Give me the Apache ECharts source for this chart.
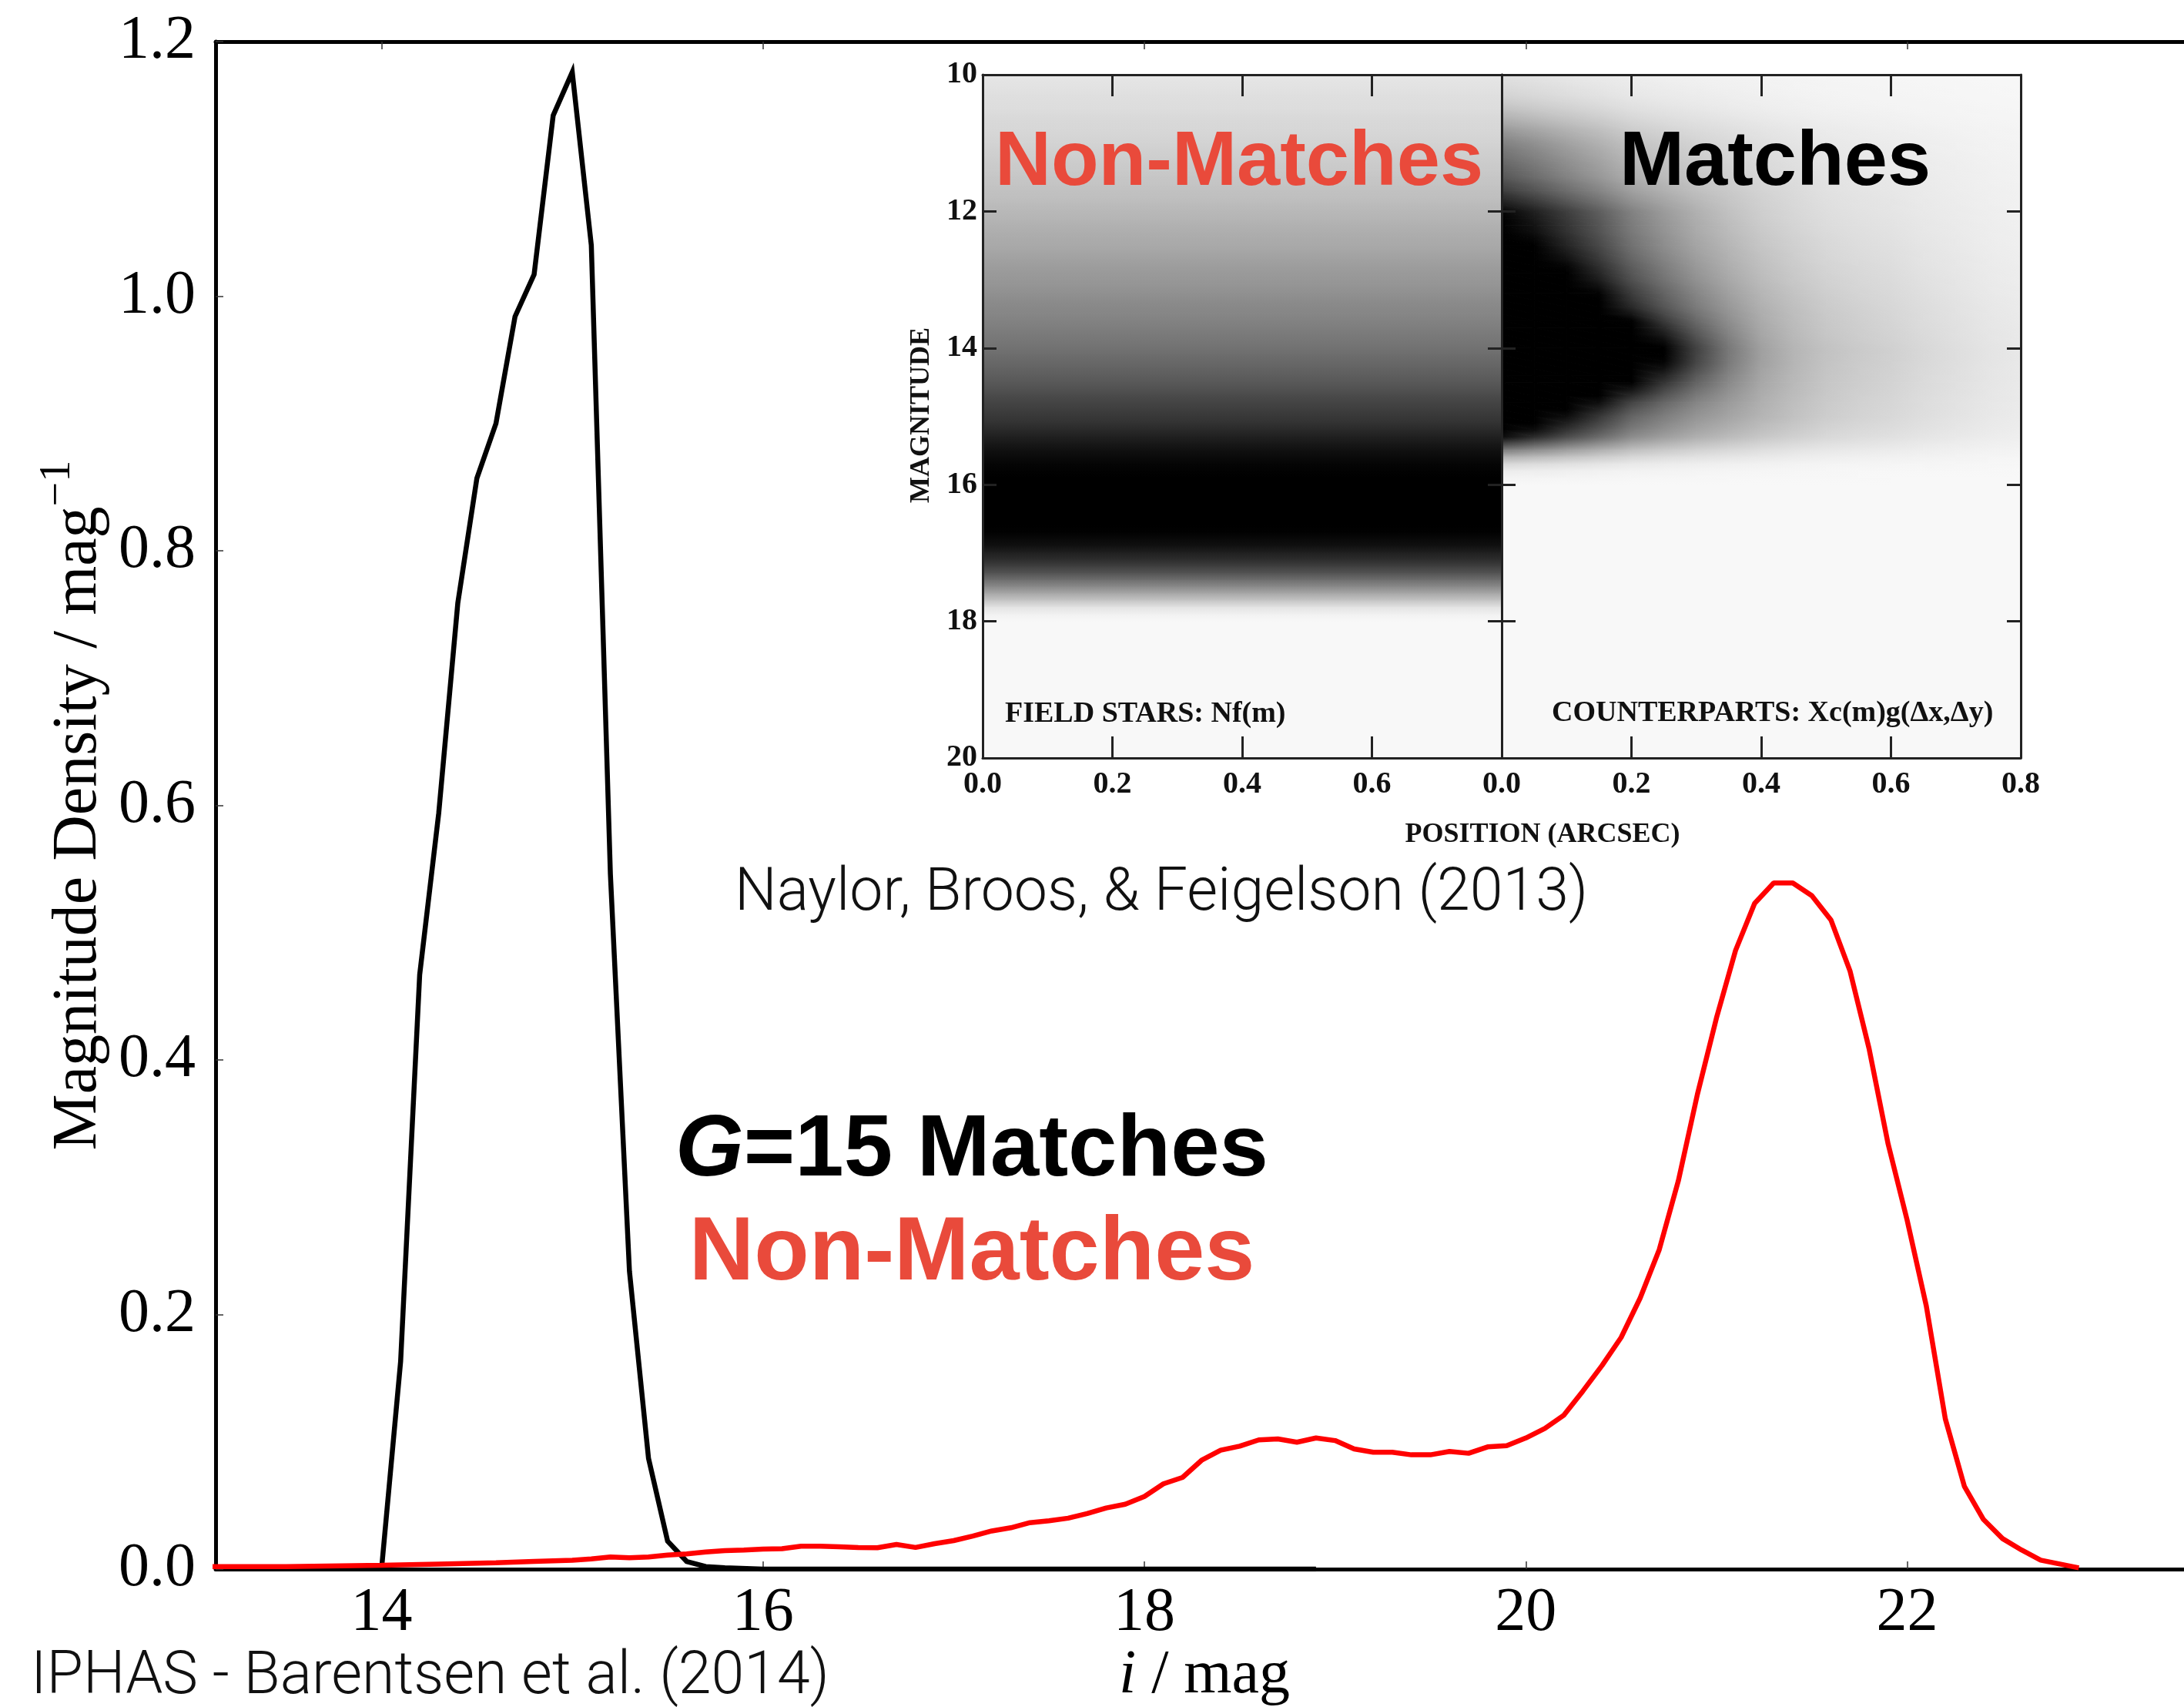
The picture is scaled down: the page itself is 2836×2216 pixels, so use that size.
<!DOCTYPE html>
<html>
<head>
<meta charset="utf-8">
<script src="https://cdn.jsdelivr.net/npm/echarts@6/dist/echarts.min.js"></script>
<style>html,body{margin:0;padding:0;background:#fff}#c{width:2836px;height:2216px}</style>
</head>
<body>
<div id="c"></div>
<script>
// ---------------- main plot data ----------------
const xTickValues = [14, 16, 18, 20, 22];

const blackMag = [14.0,14.1,14.2,14.3,14.4,14.5,14.6,14.7,14.8,14.9,15.0,15.1,15.2,15.3,15.4,15.5,15.6,15.7,15.8,16.0,17.0,18.0,18.9];
const blackDensity = [0,0.163,0.467,0.594,0.759,0.857,0.900,0.984,1.017,1.142,1.176,1.040,0.546,0.234,0.087,0.022,0.006,0.002,0.001,0,0,0,0];

const redMag = [13.1,13.5,14.0,14.3,14.6,14.8,
  15.0,15.1,15.2,15.3,15.4,15.5,15.6,15.7,15.8,15.9,
  16.0,16.1,16.2,16.3,16.4,16.5,16.6,16.7,16.8,16.9,
  17.0,17.1,17.2,17.3,17.4,17.5,17.6,17.7,17.8,17.9,
  18.0,18.1,18.2,18.3,18.4,18.5,18.6,18.7,18.8,18.9,
  19.0,19.1,19.2,19.3,19.4,19.5,19.6,19.7,19.8,19.9,
  20.0,20.1,20.2,20.3,20.4,20.5,20.6,20.7,20.8,20.9,
  21.0,21.1,21.2,21.3,21.4,21.5,21.6,21.7,21.8,21.9,
  22.0,22.1,22.2,22.3,22.4,22.5,22.6,22.7,22.8,22.9];
const redDensity = [0.002,0.002,0.003,0.004,0.005,0.006,
  0.007,0.008,0.0095,0.009,0.0095,0.011,0.012,0.0135,0.0145,0.015,
  0.0157,0.016,0.018,0.018,0.0175,0.017,0.0168,0.0194,0.017,0.020,
  0.0224,0.026,0.030,0.0325,0.0365,0.038,0.040,0.0436,0.048,0.051,
  0.057,0.067,0.072,0.0855,0.0934,0.0966,0.1015,0.1023,0.0997,0.103,
  0.101,0.0944,0.0918,0.0918,0.0898,0.0898,0.0924,0.091,0.096,0.097,
  0.103,0.1105,0.121,0.140,0.160,0.182,0.213,0.251,0.305,0.373,
  0.433,0.486,0.523,0.539,0.539,0.529,0.510,0.470,0.409,0.334,
  0.274,0.207,0.118,0.065,0.039,0.024,0.015,0.007,0.004,0.001];

// ---------------- inset data ----------------
// Left panel (field stars): darkness (0 white .. 1 black) per magnitude
const fieldMag = [10.0,10.1,10.2,10.3,10.4,10.5,10.6,10.7,10.8,10.9,
  11.0,11.1,11.2,11.3,11.4,11.5,11.6,11.7,11.8,11.9,
  12.0,12.1,12.2,12.3,12.4,12.5,12.6,12.7,12.8,12.9,
  13.0,13.1,13.2,13.3,13.4,13.5,13.6,13.7,13.8,13.9,
  14.0,14.1,14.2,14.3,14.4,14.5,14.6,14.7,14.8,14.9,
  15.0,15.1,15.2,15.3,15.4,15.5,15.6,15.7,15.8,15.9,
  16.0,16.1,16.2,16.3,16.4,16.5,16.6,16.7,16.8,16.9,
  17.0,17.1,17.2,17.3,17.4,17.5,17.6,17.7,17.8,17.9,18.0];
const fieldDark = [0.07,0.08,0.09,0.10,0.105,0.11,0.12,0.13,0.135,0.14,
  0.15,0.16,0.17,0.18,0.19,0.20,0.21,0.22,0.23,0.245,
  0.26,0.27,0.285,0.30,0.31,0.32,0.335,0.35,0.365,0.38,
  0.39,0.405,0.42,0.435,0.45,0.46,0.475,0.49,0.51,0.525,
  0.54,0.56,0.58,0.60,0.62,0.645,0.67,0.70,0.725,0.75,
  0.775,0.80,0.835,0.87,0.905,0.935,0.96,0.98,0.99,1,
  1,1,1,1,1,1,1,0.99,0.965,0.93,
  0.87,0.82,0.74,0.66,0.55,0.44,0.32,0.20,0.08,0.03,0.0];

// Right panel (counterparts): a broad halo and a narrow core, each = level(magnitude) x profile(position)
const cpMag = [10.0,10.1,10.2,10.3,10.4,10.5,10.6,10.7,10.8,10.9,
  11.0,11.1,11.2,11.3,11.4,11.5,11.6,11.7,11.8,11.9,
  12.0,12.1,12.2,12.3,12.4,12.5,12.6,12.7,12.8,12.9,
  13.0,13.1,13.2,13.3,13.4,13.5,13.6,13.7,13.8,13.9,
  14.0,14.1,14.2,14.3,14.4,14.5,14.6,14.7,14.8,14.9,
  15.0,15.1,15.2,15.3,15.4,15.5,15.6,15.7,15.8,15.9,16.0];
const haloLevel = [0.10,0.11,0.13,0.15,0.18,0.22,0.27,0.32,0.38,0.43,
  0.48,0.52,0.55,0.59,0.62,0.65,0.68,0.70,0.73,0.75,
  0.78,0.81,0.85,0.88,0.92,0.95,0.99,1.03,1.07,1.11,
  1.15,1.20,1.25,1.30,1.35,1.39,1.43,1.47,1.50,1.55,
  1.60,1.60,1.59,1.56,1.53,1.50,1.46,1.42,1.38,1.34,
  1.30,1.20,1.09,0.95,0.72,0.48,0.28,0.13,0.05,0.02,0.0];
const coreLevel = [0,0,0,0,0,0,0,0,0,0,
  0,0,0,0,0,0,0.03,0.06,0.10,0.15,
  0.20,0.20,0.19,0.18,0.18,0.18,0.19,0.20,0.22,0.235,
  0.25,0.28,0.31,0.33,0.36,0.45,0.56,0.68,0.80,0.91,
  1.00,0.98,0.95,0.85,0.70,0.56,0.42,0.29,0.15,0.07,
  0,0,0,0,0,0,0,0,0,0,0];
const posGrid = [0.00,0.05,0.10,0.15,0.20,0.25,0.30,0.35,0.40,0.45,0.50,0.55,0.60,0.65,0.70,0.75,0.80];
const haloProfile = [1.00,0.87,0.73,0.60,0.46,0.38,0.31,0.26,0.21,0.17,0.135,0.115,0.10,0.08,0.065,0.05,0.04];
const coreProfile = [1.00,0.97,0.90,0.77,0.60,0.40,0.24,0.10,0.02,0,0,0,0,0,0,0,0];

// ---------------- build series data ----------------
const blackData = blackMag.map((m, i) => [m, blackDensity[i]]);
const redData = redMag.map((m, i) => [m, redDensity[i]]);

const fieldData = [];
for (let i = 0; i < fieldMag.length - 1; i++) {
  fieldData.push([fieldMag[i], fieldMag[i + 1], fieldDark[i], fieldDark[i + 1]]);
}
// darkness at each grid node of the right panel
const cpNode = cpMag.map((m, j) => posGrid.map((p, i) =>
  Math.min(1, haloLevel[j] * haloProfile[i] + coreLevel[j] * coreProfile[i])));
const cpData = [];
for (let j = 0; j < cpMag.length - 1; j++) {
  for (let i = 0; i < posGrid.length - 1; i++) {
    cpData.push([posGrid[i], posGrid[i + 1], cpMag[j], cpMag[j + 1],
      cpNode[j][i], cpNode[j][i + 1], cpNode[j + 1][i], cpNode[j + 1][i + 1]]);
  }
}

function grayOf(d) {
  const g = Math.round(248 * (1 - Math.max(0, Math.min(1, d))));
  return 'rgb(' + g + ',' + g + ',' + g + ')';
}
// linear shading across a triangle (plane through its three corner values)
function triFill(P, v) {
  const vmin = Math.min(v[0], v[1], v[2]), vmax = Math.max(v[0], v[1], v[2]);
  if (vmax - vmin < 1e-4) return grayOf(vmax);
  const x0 = P[0][0], y0 = P[0][1];
  const dx1 = P[1][0] - x0, dy1 = P[1][1] - y0, dx2 = P[2][0] - x0, dy2 = P[2][1] - y0;
  const dv1 = v[1] - v[0], dv2 = v[2] - v[0];
  const det = dx1 * dy2 - dx2 * dy1;
  if (Math.abs(det) < 1e-9) return grayOf(v[0]);
  const a = (dv1 * dy2 - dv2 * dy1) / det;
  const b = (dx1 * dv2 - dx2 * dv1) / det;
  const g2 = a * a + b * b;
  const sx = x0 + a * (vmin - v[0]) / g2, sy = y0 + b * (vmin - v[0]) / g2;
  const ex = x0 + a * (vmax - v[0]) / g2, ey = y0 + b * (vmax - v[0]) / g2;
  return new echarts.graphic.LinearGradient(sx, sy, ex, ey,
    [{ offset: 0, color: grayOf(vmin) }, { offset: 1, color: grayOf(vmax) }], true);
}

const SERIF = '"Liberation Serif", "Times New Roman", serif';
const SANS = '"Liberation Sans", Arial, Helvetica, sans-serif';
const LIGHT = 'Roboto, "Liberation Sans", Arial, sans-serif';
const RED_TEXT = '#E94A3B';

const chart = echarts.init(document.getElementById('c'), null, { renderer: 'canvas' });

function mainX(position, showLabel, extra) {
  return Object.assign({
    type: 'value', gridIndex: 0, position: position, min: 13.13, max: 23.5,
    axisLine: { show: true, onZero: false, lineStyle: { color: '#000', width: 5 } },
    axisTick: { show: true, inside: true, length: 10, customValues: xTickValues, lineStyle: { color: '#333', width: 1.5 } },
    axisLabel: { show: showLabel, customValues: xTickValues, formatter: v => String(v), fontFamily: SERIF, fontSize: 80, color: '#000', margin: 18 },
    splitLine: { show: false }
  }, extra || {});
}

function insetX(grid, position, showLabel, hideLast) {
  return {
    type: 'value', gridIndex: grid, position: position, min: 0, max: 0.8, interval: 0.2, z: 6,
    axisLine: { show: true, onZero: false, lineStyle: { color: '#222', width: 3 } },
    axisTick: { show: true, inside: true, length: 28, lineStyle: { color: '#222', width: 3 } },
    axisLabel: {
      show: showLabel, showMaxLabel: true, showMinLabel: true,
      formatter: v => (hideLast && Math.abs(v - 0.8) < 1e-6) ? '' : v.toFixed(1),
      fontFamily: SERIF, fontWeight: 'bold', fontSize: 40, color: '#111', margin: 15
    },
    splitLine: { show: false }
  };
}
function insetY(grid, position, showLabel) {
  return {
    type: 'value', gridIndex: grid, position: position, min: 10, max: 20, interval: 2, inverse: true, z: 6,
    axisLine: { show: true, onZero: false, lineStyle: { color: '#222', width: 3 } },
    axisTick: { show: true, inside: true, length: 18, lineStyle: { color: '#222', width: 3 } },
    axisLabel: { show: showLabel, fontFamily: SERIF, fontWeight: 'bold', fontSize: 40, color: '#111', margin: 7 },
    splitLine: { show: false }
  };
}

const option = {
  animation: false,
  backgroundColor: '#ffffff',
  grid: [
    { left: 280, top: 54, width: 2568, height: 1983, containLabel: false, outerBoundsMode: 'none' },
    { left: 1276, top: 97, width: 674, height: 887, show: true, backgroundColor: '#f8f8f8', borderWidth: 0, outerBoundsMode: 'none' },
    { left: 1950, top: 97, width: 674, height: 887, show: true, backgroundColor: '#f8f8f8', borderWidth: 0, outerBoundsMode: 'none' }
  ],
  xAxis: [
    mainX('bottom', true, {
      name: '{it|i} / mag', nameLocation: 'middle', nameGap: 99, nameMoveOverlap: false,
      nameTextStyle: { fontFamily: SERIF, fontSize: 80, color: '#000',
        rich: { it: { fontFamily: SERIF, fontSize: 80, fontStyle: 'italic', color: '#000' } } }
    }),
    mainX('top', false),
    insetX(1, 'bottom', true, true),
    insetX(1, 'top', false, true),
    insetX(2, 'bottom', true, false),
    insetX(2, 'top', false, false)
  ],
  yAxis: [
    {
      type: 'value', gridIndex: 0, min: 0, max: 1.2, interval: 0.2,
      axisLine: { show: true, onZero: false, lineStyle: { color: '#000', width: 5 } },
      axisTick: { show: true, inside: true, length: 10, lineStyle: { color: '#333', width: 1.5 } },
      axisLabel: { formatter: v => v.toFixed(1), fontFamily: SERIF, fontSize: 80, color: '#000', margin: 26 },
      splitLine: { show: false },
      name: 'Magnitude Density / mag{sup|\u22121}', nameLocation: 'middle', nameRotate: 90, nameGap: 123, nameMoveOverlap: false,
      nameTextStyle: { fontFamily: SERIF, fontSize: 82, color: '#000', lineHeight: 110,
        rich: { sup: { fontFamily: SERIF, fontSize: 56, color: '#000', verticalAlign: 'top', lineHeight: 60 } } }
    },
    insetY(1, 'left', true),
    insetY(1, 'right', false),
    insetY(2, 'left', false),
    insetY(2, 'right', false)
  ],
  series: [
    {
      type: 'custom', name: 'field', xAxisIndex: 2, yAxisIndex: 1, clip: true, z: 1,
      data: fieldData,
      encode: { y: [0, 1] },
      renderItem: function (params, api) {
        const mA = api.value(0), mB = api.value(1), dA = api.value(2), dB = api.value(3);
        const p0 = api.coord([0, mA]);
        const p1 = api.coord([0.8, mB]);
        const x0 = Math.min(p0[0], p1[0]), x1 = Math.max(p0[0], p1[0]);
        const y0 = Math.min(p0[1], p1[1]), y1 = Math.max(p0[1], p1[1]);
        return { type: 'rect', shape: { x: x0, y: y0 - 0.5, width: x1 - x0, height: y1 - y0 + 1 },
          style: { fill: new echarts.graphic.LinearGradient(0, 0, 0, 1, [
            { offset: 0, color: grayOf(dA) }, { offset: 1, color: grayOf(dB) }]) } };
      }
    },
    {
      type: 'custom', name: 'counterparts', xAxisIndex: 4, yAxisIndex: 3, clip: true, z: 1,
      data: cpData,
      encode: { x: [0, 1], y: [2, 3] },
      renderItem: function (params, api) {
        const pA = api.value(0), pB = api.value(1), mA = api.value(2), mB = api.value(3);
        const v00 = api.value(4), v10 = api.value(5), v01 = api.value(6), v11 = api.value(7);
        const P00 = api.coord([pA, mA]), P10 = api.coord([pB, mA]);
        const P01 = api.coord([pA, mB]), P11 = api.coord([pB, mB]);
        const f1 = triFill([P00, P10, P11], [v00, v10, v11]);
        const f2 = triFill([P00, P11, P01], [v00, v11, v01]);
        return { type: 'group', children: [
          { type: 'polygon', shape: { points: [P00, P10, P11] }, style: { fill: f1, stroke: f1, lineWidth: 1 } },
          { type: 'polygon', shape: { points: [P00, P11, P01] }, style: { fill: f2, stroke: f2, lineWidth: 1 } }
        ] };
      }
    },
    {
      type: 'line', name: 'G=15 Matches', xAxisIndex: 0, yAxisIndex: 0, data: blackData,
      symbol: 'none', lineStyle: { color: '#000', width: 6.5, join: 'miter' }, z: 3
    },
    {
      type: 'line', name: 'Non-Matches', xAxisIndex: 0, yAxisIndex: 0, data: redData,
      symbol: 'none', lineStyle: { color: '#ff0000', width: 6.5 }, z: 4
    }
  ],
  graphic: { elements: [
    { type: 'text', x: 1609, y: 212, z: 50, style: { text: 'Non-Matches', fontFamily: SANS, fontWeight: 'bold', fontSize: 101, fill: RED_TEXT, textAlign: 'center', align: 'center', textVerticalAlign: 'middle', verticalAlign: 'middle' } },
    { type: 'text', x: 2305, y: 212, z: 50, style: { text: 'Matches', fontFamily: SANS, fontWeight: 'bold', fontSize: 101, fill: '#000', textAlign: 'center', align: 'center', textVerticalAlign: 'middle', verticalAlign: 'middle' } },
    { type: 'text', x: 1305, y: 927, z: 50, style: { text: 'FIELD STARS: Nf(m)', fontFamily: SERIF, fontWeight: 'bold', fontSize: 38, fill: '#111', textAlign: 'left', align: 'left', textVerticalAlign: 'middle', verticalAlign: 'middle' } },
    { type: 'text', x: 2015, y: 926, z: 50, style: { text: 'COUNTERPARTS: Xc(m)g(\u0394x,\u0394y)', fontFamily: SERIF, fontWeight: 'bold', fontSize: 38, fill: '#111', textAlign: 'left', align: 'left', textVerticalAlign: 'middle', verticalAlign: 'middle' } },
    { type: 'text', x: 2003, y: 1084, z: 50, style: { text: 'POSITION (ARCSEC)', fontFamily: SERIF, fontWeight: 'bold', fontSize: 36, fill: '#111', textAlign: 'center', align: 'center', textVerticalAlign: 'middle', verticalAlign: 'middle' } },
    { type: 'text', x: 1197, y: 539, rotation: Math.PI / 2, z: 50, style: { text: 'MAGNITUDE', fontFamily: SERIF, fontWeight: 'bold', fontSize: 36, fill: '#111', textAlign: 'center', align: 'center', textVerticalAlign: 'middle', verticalAlign: 'middle' } },
    { type: 'text', x: 1508, y: 1162, z: 50, style: { text: 'Naylor, Broos, & Feigelson (2013)', fontFamily: LIGHT, fontWeight: 300, fontSize: 77, fill: '#111', textAlign: 'center', align: 'center', textVerticalAlign: 'middle', verticalAlign: 'middle' } },
    { type: 'text', x: 1262, y: 1495, z: 50, style: { text: '{it|G}=15 Matches', fontFamily: SANS, fontWeight: 'bold', fontSize: 114, fill: '#000', textAlign: 'center', align: 'center', textVerticalAlign: 'middle', verticalAlign: 'middle',
      rich: { it: { fontFamily: SANS, fontWeight: 'bold', fontStyle: 'italic', fontSize: 114, fill: '#000' } } } },
    { type: 'text', x: 1262, y: 1629, z: 50, style: { text: 'Non-Matches', fontFamily: SANS, fontWeight: 'bold', fontSize: 117, fill: RED_TEXT, textAlign: 'center', align: 'center', textVerticalAlign: 'middle', verticalAlign: 'middle' } },
    { type: 'text', x: 40, y: 2179, z: 50, style: { text: 'IPHAS - Barentsen et al. (2014)', fontFamily: LIGHT, fontWeight: 300, fontSize: 77, fill: '#111', textAlign: 'left', align: 'left', textVerticalAlign: 'middle', verticalAlign: 'middle' } }
  ] }
};

chart.setOption(option);
</script>
</body>
</html>
